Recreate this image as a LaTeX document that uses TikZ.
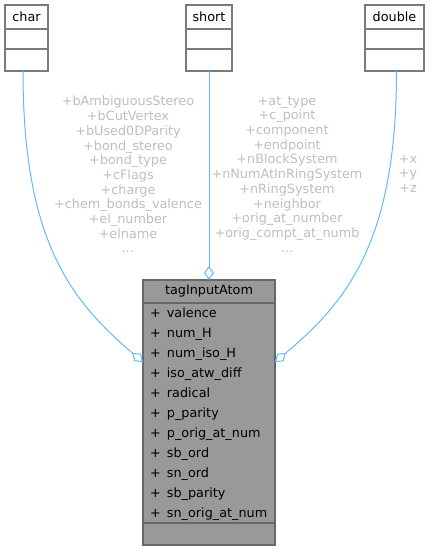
\documentclass[tikz,border=0pt]{standalone}
\usepackage{fontspec}
\setmainfont{DejaVu Sans}
\usepackage{tikz}
\usetikzlibrary{arrows.meta}
\usetikzlibrary{positioning}
\definecolor{edgeblue}{HTML}{63B8FF}
\definecolor{boxline}{HTML}{7A7A7A}
\definecolor{labelgrey}{HTML}{BEBEBE}
\definecolor{mainfill}{HTML}{999999}
\def\rowh{20}
\def\firstrow{317}

\begin{document}
\begin{tikzpicture}[x=1pt,y=-1pt,font=\fontsize{12.8}{14.7}\selectfont,
  cell/.style={draw=boxline,line width=1.2pt,fill=white,inner sep=0pt,outer sep=0pt,
    minimum width=#1},
  maincell/.style={cell=132pt,fill=mainfill,draw=boxline!85!black},
  member/.style={labelgrey,align=center,inner sep=0pt},
  edge/.style={draw=edgeblue,line width=1pt,-{Diamond[open,length=14pt,width=10pt]}}]

\useasboundingbox (0,0) rectangle (429,551);

% member types
\node[cell=43pt,minimum height=24pt] at (26.5,17) (char) {char};
\node[cell=43pt,minimum height=20pt,below=0pt of char] (char1) {};
\node[cell=43pt,minimum height=22pt,below=0pt of char1] (char2) {};

\node[cell=46pt,minimum height=24pt] at (209,17) (short) {short};
\node[cell=46pt,minimum height=20pt,below=0pt of short] (short1) {};
\node[cell=46pt,minimum height=22pt,below=0pt of short1] (short2) {};

\node[cell=59pt,minimum height=24pt] at (394.5,17) (double) {double};
\node[cell=59pt,minimum height=20pt,below=0pt of double] (double1) {};
\node[cell=59pt,minimum height=22pt,below=0pt of double1] (double2) {};

% the struct itself
\node[maincell,minimum height=23pt] at (209,291.5) (atom) {tagInputAtom};
\node[maincell,minimum height=220pt,below=0pt of atom] (atomattr) {};
\node[maincell,minimum height=22pt,below=0pt of atomattr] (atomops) {};

\foreach \name [count=\i from 0] in {valence,num\_H,num\_iso\_H,iso\_atw\_diff,radical,
    p\_parity,p\_orig\_at\_num,sb\_ord,sn\_ord,sb\_parity,sn\_orig\_at\_num}
  \node[anchor=base west,inner sep=0pt] at (150,\firstrow+\rowh*\i) (attr\i) {+\hspace{6pt}\name};

% usage edges
\coordinate (atomleft) at (143,362);
\coordinate (atomright) at (275,362);

\draw[edge] (char2.south -| 23,0) .. controls (23,240) and (70,300) .. (atomleft);
\draw[edge] (short2.south) -- (atom.north);
\draw[edge] (double2.south -| 396.5,0) .. controls (396.5,240) and (348,301) .. (atomright);

\node[member,anchor=north] at (128,96) (charlbl) {+bAmbiguousStereo\\+bCutVertex\\+bUsed0DParity\\
  +bond\_stereo\\+bond\_type\\+cFlags\\+charge\\+chem\_bonds\_valence\\+el\_number\\+elname\\...};
\node[member,anchor=north] at (287,96) (shortlbl) {+at\_type\\+c\_point\\+component\\+endpoint\\
  +nBlockSystem\\+nNumAtInRingSystem\\+nRingSystem\\+neighbor\\+orig\_at\_number\\
  +orig\_compt\_at\_numb\\...};
\node[member,anchor=north] at (408,155) (doublelbl) {+x\\+y\\+z};

\end{tikzpicture}
\end{document}
